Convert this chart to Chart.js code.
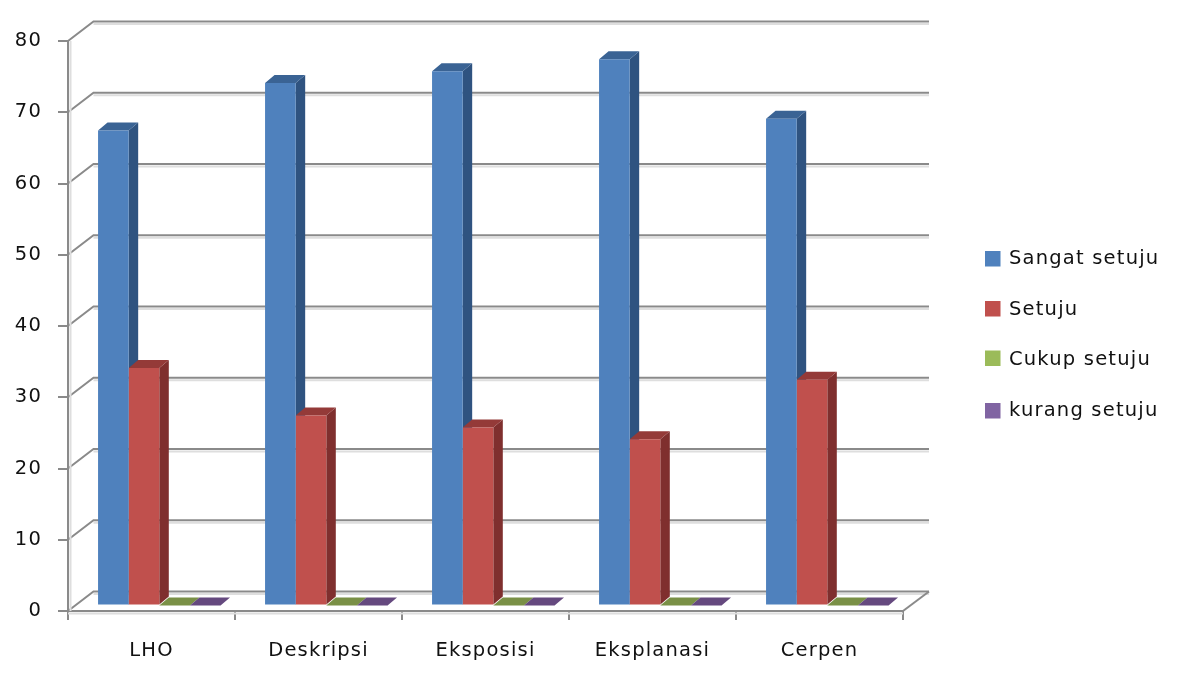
<!DOCTYPE html>
<html>
<head>
<meta charset="utf-8">
<title>Grafik</title>
<script src="https://cdn.jsdelivr.net/npm/chart.js@4/dist/chart.umd.min.js"></script>
<style>
  html, body { margin: 0; padding: 0; background: #fff; }
  canvas { display: block; }
</style>
</head>
<body>
<canvas id="chart" width="1187" height="677"></canvas>
<script>
const categories = ['LHO', 'Deskripsi', 'Eksposisi', 'Eksplanasi', 'Cerpen'];
const sangatSetuju = [66.67, 73.33, 75, 76.67, 68.33];
const setuju = [33.33, 26.67, 25, 23.33, 31.67];
const cukupSetuju = [0, 0, 0, 0, 0];
const kurangSetuju = [0, 0, 0, 0, 0];
const yTicks = [0, 10, 20, 30, 40, 50, 60, 70, 80];

const FONT = '"DejaVu Sans", sans-serif';
const TEXT = '#111111';
const GRID = '#8a8a8a';
const GRID_SOFT = '#dedede';

// pseudo 3D: wall depth, bar depth, and where the bars sit on the floor
const WALL = { dx: 25.5, dy: -19.5 };
const BAR = { dx: 9.5, dy: -8 };
const FLOOR = { dx: 7.8, dy: -5.5 };

const fills = [
  { front: '#4f81bd', side: '#2f5380', top: '#3a6394' },
  { front: '#c0504d', side: '#7f2f2e', top: '#943a38' },
  { front: '#9bbb59', side: '#64793a', top: '#7a9046' },
  { front: '#8064a2', side: '#513e67', top: '#65497f' }
];

function poly(ctx, pts, color) {
  ctx.fillStyle = color;
  ctx.beginPath();
  pts.forEach((p, i) => (i ? ctx.lineTo(p[0], p[1]) : ctx.moveTo(p[0], p[1])));
  ctx.closePath();
  ctx.fill();
}

function strokeLine(ctx, pts, color, width) {
  ctx.strokeStyle = color;
  ctx.lineWidth = width;
  ctx.beginPath();
  pts.forEach((p, i) => (i ? ctx.lineTo(p[0], p[1]) : ctx.moveTo(p[0], p[1])));
  ctx.stroke();
}

const wallAndBars = {
  id: 'wallAndBars',
  beforeDraw(chart) {
    chart.ctx.letterSpacing = '1.2px';
  },
  beforeDatasetsDraw(chart) {
    const { ctx, chartArea: area, scales: { y } } = chart;

    // back wall lines plus the diagonals running to the front axis
    ctx.save();
    yTicks.forEach(v => {
      const py = y.getPixelForValue(v);
      const backY = py + WALL.dy;
      const backL = area.left + WALL.dx;
      const backR = area.right + WALL.dx + 0.5;
      strokeLine(ctx, [[backL, backY + 2.5], [backR, backY + 2.5]], GRID_SOFT, 2);
      strokeLine(ctx, [[area.left, py], [backL, backY], [backR, backY]], GRID, 2);
    });
    const py0 = y.getPixelForValue(0);
    strokeLine(ctx, [[area.right, py0], [area.right + WALL.dx + 0.5, py0 + WALL.dy]], GRID, 2);
    strokeLine(ctx, [[area.left, py0 + 2.5], [area.right, py0 + 2.5]], GRID_SOFT, 2);
    strokeLine(ctx, [[area.left + 2.5, area.top], [area.left + 2.5, py0]], GRID_SOFT, 2);
    ctx.restore();

    ctx.save();
    ctx.translate(FLOOR.dx, FLOOR.dy);

    // side and top faces go under the fronts, first series first
    chart.data.datasets.forEach((ds, i) => {
      chart.getDatasetMeta(i).data.forEach(bar => {
        const { x, y: top, base, width } = bar.getProps(['x', 'y', 'base', 'width'], true);
        const l = x - width / 2;
        const r = x + width / 2;
        poly(ctx, [[r, top], [r + BAR.dx, top + BAR.dy], [r + BAR.dx, base + BAR.dy], [r, base]], fills[i].side);
        poly(ctx, [[l, top], [l + BAR.dx, top + BAR.dy], [r + BAR.dx, top + BAR.dy], [r, top]], fills[i].top);
      });
    });
  },
  afterDatasetsDraw(chart) {
    chart.ctx.restore();
  },
  // legend column to the right of the plot
  afterDraw(chart) {
    const { ctx } = chart;
    const boxes = [258.5, 308.5, 358, 410.5];
    const rows = [259, 309.5, 360, 410.5];
    ctx.save();
    ctx.font = '19.5px ' + FONT;
    ctx.textBaseline = 'middle';
    ctx.textAlign = 'left';
    chart.data.datasets.forEach((ds, i) => {
      ctx.fillStyle = ds.backgroundColor;
      ctx.fillRect(985, boxes[i] - 7.5, 15.5, 15.5);
      ctx.fillStyle = TEXT;
      ctx.fillText(ds.label, 1009, rows[i]);
    });
    ctx.restore();
  }
};

new Chart(document.getElementById('chart'), {
  type: 'bar',
  plugins: [wallAndBars],
  data: {
    labels: categories,
    datasets: [
      { label: 'Sangat setuju', data: sangatSetuju, backgroundColor: fills[0].front },
      { label: 'Setuju', data: setuju, backgroundColor: fills[1].front },
      { label: 'Cukup setuju', data: cukupSetuju, backgroundColor: fills[2].front },
      { label: 'kurang setuju', data: kurangSetuju, backgroundColor: fills[3].front }
    ]
  },
  options: {
    responsive: false,
    animation: false,
    clip: false,
    barPercentage: 1,
    categoryPercentage: 0.7335,
    layout: { padding: { top: 41, right: 284, bottom: 0, left: 0 } },
    plugins: { legend: { display: false }, title: { display: false }, tooltip: { enabled: false } },
    scales: {
      x: {
        afterFit(scale) { scale.height = 66; },
        border: { display: true, color: GRID, width: 2 },
        grid: { drawOnChartArea: false, drawTicks: true, tickLength: 9, color: GRID, lineWidth: 2 },
        ticks: { color: TEXT, padding: 19, font: { family: FONT, size: 19.5 }, maxRotation: 0 }
      },
      y: {
        min: 0,
        max: 80,
        afterFit(scale) { scale.width = 68; },
        afterBuildTicks(scale) { scale.ticks = yTicks.map(value => ({ value })); },
        border: { display: true, color: GRID, width: 2 },
        grid: { drawOnChartArea: false, drawTicks: true, tickLength: 10, color: GRID, lineWidth: 2 },
        ticks: { color: TEXT, padding: 16, font: { family: FONT, size: 19.5 } }
      }
    }
  }
});
</script>
</body>
</html>
